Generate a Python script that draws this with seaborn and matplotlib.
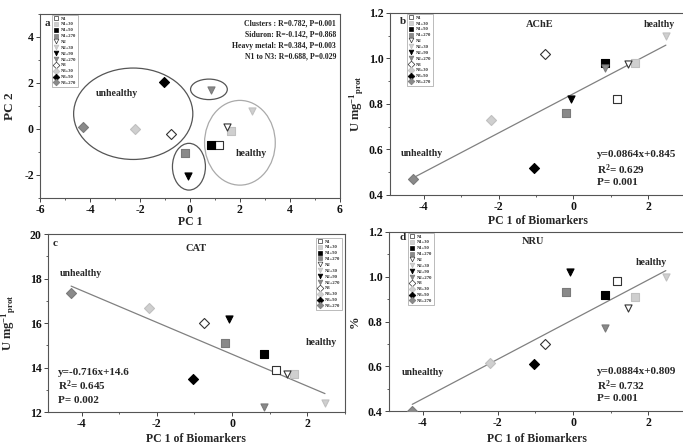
import matplotlib
matplotlib.use('Agg')
import matplotlib.pyplot as plt
from matplotlib.patches import Ellipse
from matplotlib.lines import Line2D
from matplotlib.ticker import MultipleLocator
import seaborn as sns
import pandas as pd

# samples and their scores / biomarker values
samples = ['N1', 'N1+30', 'N1+90', 'N1+270',
           'N2', 'N2+30', 'N2+90', 'N2+270',
           'N3', 'N3+30', 'N3+90', 'N3+270']
pc1 = [1.17, 1.64, 0.85, -0.20, 1.47, 2.47, -0.07, 0.85, -0.75, -2.20, -1.04, -4.28]
pc2 = [-0.71, -0.11, -0.68, -1.03, 0.10, 0.76, -2.03, 1.67, -0.22, 0.00, 2.04, 0.08]
ache = [0.82, 0.98, 0.98, 0.76, 0.975, 1.10, 0.82, 0.96, 1.02, 0.73, 0.52, 0.47]
cat = [13.88, 13.70, 14.60, 15.10, 13.70, 12.40, 16.20, 12.25, 16.02, 16.70, 13.50, 17.35]
nru = [0.98, 0.91, 0.92, 0.93, 0.86, 1.00, 1.02, 0.77, 0.70, 0.615, 0.61, 0.40]

# regression equations printed on panels b-d
slopes = [0.0864, -0.716, 0.0884]
intercepts = [0.845, 14.6, 0.809]
r2_vals = ['0.629', '0.645', '0.732']
p_vals = ['0.001', '0.002', '0.001']

# ANOSIM results in panel a
stats_lines = ['Clusters : R=0.782, P=0.001',
               'Siduron: R=-0.142, P=0.868',
               'Heavy metal: R=0.384, P=0.003',
               'N1 to N3: R=0.688, P=0.029']

# hand-drawn cluster ellipses in panel a: (x, y, width, height, colour)
ellipses = [(-2.27, 0.66, 4.77, 3.97, '#555555'),
            (0.76, 1.72, 1.47, 0.89, '#555555'),
            (-0.04, -1.64, 1.32, 2.03, '#555555'),
            (2.0, -0.6, 2.83, 3.68, '#aaaaaa')]

df = pd.DataFrame({'sample': samples, 'pc1': pc1, 'pc2': pc2,
                   'ache': ache, 'cat': cat, 'nru': nru})

marker_of = {'N1': 's', 'N2': 'v', 'N3': 'D'}
face_of = {'': 'white', '+30': '#cfcfcf', '+90': 'black', '+270': '#8a8a8a'}
edge_of = {'': '#333333', '+30': '#c0c0c0', '+90': 'black', '+270': '#7a7a7a'}

def style(s):
    base, suf = s[:2], s[2:]
    return marker_of[base], face_of[suf], edge_of[suf]

sns.set_theme(style='ticks')
plt.rcParams['font.family'] = ['Liberation Serif', 'DejaVu Serif']
plt.rcParams['font.weight'] = 'bold'
plt.rcParams['axes.labelweight'] = 'bold'
plt.rcParams['axes.unicode_minus'] = False
plt.rcParams['mathtext.fontset'] = 'custom'
plt.rcParams['mathtext.rm'] = 'Liberation Serif:bold'
plt.rcParams['mathtext.bf'] = 'Liberation Serif:bold'
plt.rcParams['mathtext.it'] = 'Liberation Serif:bold'

fig = plt.figure(figsize=(6.83, 4.46), dpi=100)
fig.patch.set_facecolor('white')

ax_a = fig.add_axes([0.0586, 0.556, 0.439, 0.413])
ax_b = fig.add_axes([0.571, 0.563, 0.433, 0.408])
ax_c = fig.add_axes([0.070, 0.076, 0.435, 0.399])
ax_d = fig.add_axes([0.5695, 0.078, 0.4345, 0.402])


def draw_points(ax, ycol):
    for s in samples:
        m, fc, ec = style(s)
        sns.scatterplot(data=df[df['sample'] == s], x='pc1', y=ycol, ax=ax,
                        marker=m, color=fc, edgecolor=ec, linewidth=0.8,
                        s=26, zorder=3, legend=False)


def tiny_legend(ax, loc, anchor):
    handles = []
    for s in samples:
        m, fc, ec = style(s)
        handles.append(Line2D([], [], marker=m, linestyle='', markersize=3.4,
                              markerfacecolor=fc, markeredgecolor=ec,
                              markeredgewidth=0.5, label=s))
    leg = ax.legend(handles=handles, loc=loc, bbox_to_anchor=anchor,
                    fontsize=3.3, frameon=True, handlelength=0.9,
                    handletextpad=0.7, labelspacing=0.36, borderpad=0.35,
                    borderaxespad=0.0, fancybox=False)
    leg.get_frame().set_edgecolor('#888888')
    leg.get_frame().set_linewidth(0.5)


def frame(ax, xmaj, xmin_, ymaj, ymin_):
    for sp in ax.spines.values():
        sp.set_visible(True)
        sp.set_color('#555555')
        sp.set_linewidth(0.8)
    ax.xaxis.set_major_locator(MultipleLocator(xmaj))
    ax.xaxis.set_minor_locator(MultipleLocator(xmin_))
    ax.yaxis.set_major_locator(MultipleLocator(ymaj))
    ax.yaxis.set_minor_locator(MultipleLocator(ymin_))
    ax.tick_params(which='major', direction='out', length=3, width=0.7,
                   colors='#444444', labelcolor='#111111', labelsize=8.5, pad=1.5)
    ax.tick_params(which='minor', direction='out', length=1.5, width=0.6,
                   colors='#444444')
    ax.set_facecolor('white')


# ---- panel a: PCA scores ----
draw_points(ax_a, 'pc2')
for (ex, ey, ew, eh, ec) in ellipses:
    ax_a.add_patch(Ellipse((ex, ey), ew, eh, fill=False, edgecolor=ec,
                           linewidth=0.9, zorder=2))
ax_a.set_xlim(-6, 6)
ax_a.set_ylim(-3, 5)
frame(ax_a, 2, 1, 2, 1)
ax_a.set_xlabel('PC 1', fontsize=8.5, fontweight='bold')
ax_a.set_ylabel('PC 2', fontsize=9.5, fontweight='bold')
ax_a.xaxis.set_label_coords(0.5, -0.1)
ax_a.yaxis.set_label_coords(-0.08, 0.5)
ax_a.text(0.023, 0.95, 'a', transform=ax_a.transAxes, fontsize=8,
          fontweight='bold', ha='center', va='center')
ax_a.text(-2.93, 1.56, 'unhealthy', fontsize=7, fontweight='bold',
          ha='center', va='center')
ax_a.text(2.47, -1.06, 'healthy', fontsize=7, fontweight='bold',
          ha='center', va='center')
for i, line in enumerate(stats_lines):
    ax_a.text(0.987, 0.95 - i * 0.061, line, transform=ax_a.transAxes,
              fontsize=5.6, fontweight='bold', ha='right', va='center',
              color='#222222')
tiny_legend(ax_a, 'upper left', (0.04, 0.995))

# ---- panels b-d: biomarkers vs PC1 ----
panels = [(ax_b, 'ache', r'U mg$^{-1}$$_{\mathrm{prot}}$', (0.4, 1.2), 0.2, 0.1),
          (ax_c, 'cat', r'U mg$^{-1}$$_{\mathrm{prot}}$', (12, 20), 2, 1),
          (ax_d, 'nru', '%', (0.4, 1.2), 0.2, 0.1)]

for k, (ax, col, ylab, ylim, ymaj, ymin_) in enumerate(panels):
    xs = pd.Series([df['pc1'].min(), df['pc1'].max()])
    line_df = pd.DataFrame({'x': xs, 'y': slopes[k] * xs + intercepts[k]})
    sns.lineplot(data=line_df, x='x', y='y', ax=ax, color='#808080',
                 linewidth=0.9, zorder=2)
    draw_points(ax, col)
    ax.set_xlim(-4.9, 3.0)
    ax.set_ylim(*ylim)
    frame(ax, 2, 1, ymaj, ymin_)
    ax.set_xlabel('PC 1 of Biomarkers', fontsize=8.5, fontweight='bold')
    ax.set_ylabel(ylab, fontsize=9, fontweight='bold')

# panel b texts
ax_b.xaxis.set_label_coords(0.5, -0.11)
ax_b.yaxis.set_label_coords(-0.081, 0.5)
ax_b.text(0.035, 0.975, 'b', transform=ax_b.transAxes, fontsize=8, fontweight='bold', va='top')
ax_b.text(0.507, 0.934, 'AChE', transform=ax_b.transAxes, fontsize=7.5, fontweight='bold', ha='center', va='center')
ax_b.text(0.909, 0.934, 'healthy', transform=ax_b.transAxes, fontsize=7, fontweight='bold', ha='center', va='center')
ax_b.text(0.108, 0.23, 'unhealthy', transform=ax_b.transAxes, fontsize=7, fontweight='bold', ha='center', va='center')
tiny_legend(ax_b, 'upper left', (0.057, 0.995))

# panel c texts
ax_c.xaxis.set_label_coords(0.5, -0.12)
ax_c.yaxis.set_label_coords(-0.1, 0.5)
ax_c.text(0.024, 0.95, 'c', transform=ax_c.transAxes, fontsize=8, fontweight='bold', ha='center', va='center')
ax_c.text(0.50, 0.92, 'CAT', transform=ax_c.transAxes, fontsize=7.5, fontweight='bold', ha='center', va='center')
ax_c.text(0.92, 0.39, 'healthy', transform=ax_c.transAxes, fontsize=7, fontweight='bold', ha='center', va='center')
ax_c.text(0.113, 0.78, 'unhealthy', transform=ax_c.transAxes, fontsize=7, fontweight='bold', ha='center', va='center')
tiny_legend(ax_c, 'upper right', (0.99, 0.98))

# panel d texts
ax_d.xaxis.set_label_coords(0.5, -0.12)
ax_d.yaxis.set_label_coords(-0.095, 0.5)
ax_d.text(0.045, 0.97, 'd', transform=ax_d.transAxes, fontsize=8, fontweight='bold', ha='center', va='center')
ax_d.text(0.485, 0.944, 'NRU', transform=ax_d.transAxes, fontsize=7.5, fontweight='bold', ha='center', va='center')
ax_d.text(0.885, 0.83, 'healthy', transform=ax_d.transAxes, fontsize=7, fontweight='bold', ha='center', va='center')
ax_d.text(0.115, 0.215, 'unhealthy', transform=ax_d.transAxes, fontsize=7, fontweight='bold', ha='center', va='center')
tiny_legend(ax_d, 'upper left', (0.065, 0.995))

# equations
eq_pos = [(ax_b, 0.70, [0.22, 0.137, 0.066]),
          (ax_c, 0.035, [0.225, 0.146, 0.067]),
          (ax_d, 0.70, [0.22, 0.145, 0.072])]
for k, (ax, xf, yfs) in enumerate(eq_pos):
    sign = '+' if intercepts[k] >= 0 else '-'
    eq = 'y={:g}x{}{:g}'.format(slopes[k], sign, abs(intercepts[k]))
    ax.text(xf, yfs[0], eq, transform=ax.transAxes, fontsize=8, fontweight='bold', va='center')
    ax.text(xf, yfs[1], r'R$^2$= ' + r2_vals[k], transform=ax.transAxes, fontsize=8, fontweight='bold', va='center')
    ax.text(xf, yfs[2], 'P= ' + p_vals[k], transform=ax.transAxes, fontsize=8, fontweight='bold', va='center')

# make sure tick labels are bold once they exist
fig.canvas.draw()
for ax in (ax_a, ax_b, ax_c, ax_d):
    for lab in ax.get_xticklabels() + ax.get_yticklabels():
        lab.set_fontweight('bold')

fig.savefig('out.png', dpi=100, facecolor='white')
